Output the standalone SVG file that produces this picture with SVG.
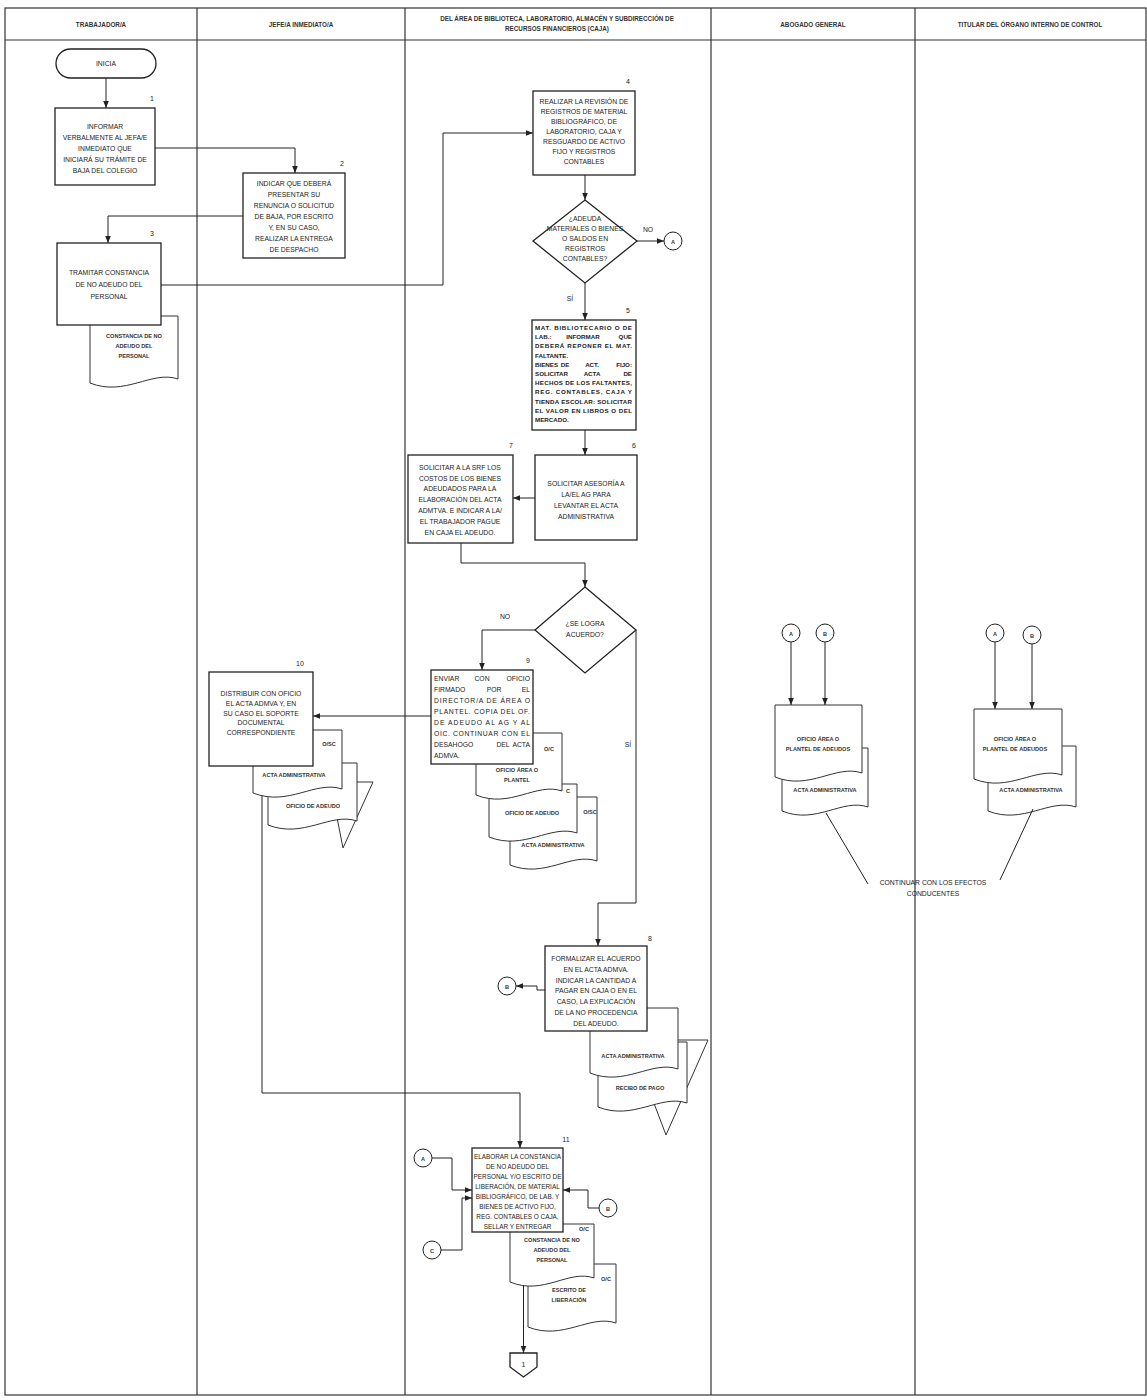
<svg xmlns="http://www.w3.org/2000/svg" width="1147" height="1400" viewBox="0 0 1147 1400">
<defs>
<marker id="ah" viewBox="0 0 10 10" refX="10" refY="5" markerWidth="7" markerHeight="7" markerUnits="userSpaceOnUse" orient="auto"><path d="M0,1 L10,5 L0,9 Z" fill="#222"/></marker>
<style>
.lane{fill:none;stroke:#333;stroke-width:1.2}
.box{fill:#fff;stroke:#222;stroke-width:1.3}
.doc{fill:#fff;stroke:#333;stroke-width:1}
.ln{fill:none;stroke:#222;stroke-width:1}
.t{font-family:"Liberation Sans",Arial,sans-serif;font-size:6.8px;fill:#222;text-anchor:middle}
.h{font-family:"Liberation Sans",Arial,sans-serif;font-size:6.3px;font-weight:bold;fill:#333;text-anchor:middle}
.d{font-family:"Liberation Sans",Arial,sans-serif;font-size:5.6px;font-weight:bold;fill:#333;text-anchor:middle}
.j{font-family:"Liberation Sans",Arial,sans-serif;font-size:6.8px;fill:#222;text-anchor:start}
.jb{font-family:"Liberation Sans",Arial,sans-serif;font-size:6.2px;font-weight:bold;fill:#222;text-anchor:start}
.m{text-anchor:middle}
.e{text-anchor:end}
.n{font-family:"Liberation Sans",Arial,sans-serif;font-size:7px;fill:#222;text-anchor:middle}
.c{fill:#fff;stroke:#222;stroke-width:1}
</style>
</defs>
<rect width="1147" height="1400" fill="#fff"/>

<g id="lanes">
<rect class="lane" x="5" y="8" width="1141" height="1387"/>
<line class="lane" x1="5" y1="40" x2="1146" y2="40"/>
<line class="lane" x1="197" y1="8" x2="197" y2="1395"/>
<line class="lane" x1="405" y1="8" x2="405" y2="1395"/>
<line class="lane" x1="711" y1="8" x2="711" y2="1395"/>
<line class="lane" x1="915" y1="8" x2="915" y2="1395"/>
<text class="h" x="101" y="27">TRABAJADOR/A</text>
<text class="h" x="301" y="27">JEFE/A INMEDIATO/A</text>
<text class="h" x="557" y="21">DEL ÁREA DE BIBLIOTECA, LABORATORIO, ALMACÉN Y SUBDIRECCIÓN DE</text>
<text class="h" x="557" y="31">RECURSOS FINANCIEROS (CAJA)</text>
<text class="h" x="813" y="27">ABOGADO GENERAL</text>
<text class="h" x="1030" y="27">TITULAR DEL ÓRGANO INTERNO DE CONTROL</text>
</g>

<g id="inicia">
<rect class="box" x="56" y="49" width="100" height="29" rx="14.5"/>
<text class="t" x="106" y="66">INICIA</text>
</g>

<g id="n1">
<rect class="box" x="55" y="108" width="100" height="77"/>
<text class="n" x="152" y="101">1</text>
<text class="t"><tspan x="105" y="129">INFORMAR</tspan><tspan x="105" y="140">VERBALMENTE AL JEFA/E</tspan><tspan x="105" y="151">INMEDIATO QUE</tspan><tspan x="105" y="162">INICIARÁ SU TRÁMITE DE</tspan><tspan x="105" y="173">BAJA DEL COLEGIO</tspan></text>
</g>

<g id="n2">
<rect class="box" x="243" y="173" width="102" height="85"/>
<text class="n" x="342" y="166">2</text>
<text class="t"><tspan x="294" y="186">INDICAR QUE DEBERÁ</tspan><tspan x="294" y="197">PRESENTAR SU</tspan><tspan x="294" y="208">RENUNCIA O SOLICITUD</tspan><tspan x="294" y="219">DE BAJA, POR ESCRITO</tspan><tspan x="294" y="230">Y,  EN SU CASO,</tspan><tspan x="294" y="241">REALIZAR LA ENTREGA</tspan><tspan x="294" y="252">DE DESPACHO</tspan></text>
</g>

<g id="n3">
<path class="doc" d="M90,316 H178 V379 C151.6,370 125.2,397 90,383 Z"/>
<text class="d"><tspan x="134" y="338">CONSTANCIA DE NO</tspan><tspan x="134" y="348">ADEUDO DEL</tspan><tspan x="134" y="358">PERSONAL</tspan></text>
<rect class="box" x="57" y="243" width="104" height="82"/>
<text class="n" x="152" y="236">3</text>
<text class="t"><tspan x="109" y="275">TRAMITAR CONSTANCIA</tspan><tspan x="109" y="287">DE NO ADEUDO DEL</tspan><tspan x="109" y="299">PERSONAL</tspan></text>
</g>

<g id="n4">
<rect class="box" x="533" y="91" width="102" height="84"/>
<text class="n" x="628" y="84">4</text>
<text class="t"><tspan x="584" y="104">REALIZAR LA REVISIÓN DE</tspan><tspan x="584" y="114">REGISTROS DE MATERIAL</tspan><tspan x="584" y="124">BIBLIOGRÁFICO, DE</tspan><tspan x="584" y="134">LABORATORIO, CAJA Y</tspan><tspan x="584" y="144">RESGUARDO DE ACTIVO</tspan><tspan x="584" y="154">FIJO Y REGISTROS</tspan><tspan x="584" y="164">CONTABLES</tspan></text>
</g>

<g id="d1">
<polygon class="box" points="585,200 637,241 585,283 533,241"/>
<text class="t"><tspan x="585" y="221">¿ADEUDA</tspan><tspan x="585" y="231">MATERIALES O BIENES</tspan><tspan x="585" y="241">O SALDOS EN</tspan><tspan x="585" y="251">REGISTROS</tspan><tspan x="585" y="261">CONTABLES?</tspan></text>
</g>

<g id="cA1">
<circle class="c" cx="673" cy="241" r="9"/>
<text class="d" x="673" y="243.5">A</text>
</g>

<g id="n5">
<rect class="box" x="532" y="320" width="104" height="110"/>
<text class="n" x="628" y="313">5</text>
<g class="jb">
<text x="535" y="330" textLength="97" lengthAdjust="spacing">MAT. BIBLIOTECARIO O DE</text>
<text x="535" y="339.2">LAB.:</text><text class="m" x="583" y="339.2">INFORMAR</text><text class="e" x="632" y="339.2">QUE</text>
<text x="535" y="348.4" textLength="97" lengthAdjust="spacing">DEBERÁ REPONER EL MAT.</text>
<text x="535" y="357.6">FALTANTE.</text>
<text x="535" y="366.8">BIENES</text><text class="m" x="565" y="366.8">DE</text><text class="m" x="592" y="366.8">ACT.</text><text class="e" x="632" y="366.8">FIJO:</text>
<text x="535" y="376">SOLICITAR</text><text class="m" x="592" y="376">ACTA</text><text class="e" x="632" y="376">DE</text>
<text x="535" y="385.2" textLength="97" lengthAdjust="spacing">HECHOS DE LOS FALTANTES,</text>
<text x="535" y="394.4" textLength="97" lengthAdjust="spacing">REG. CONTABLES, CAJA Y</text>
<text x="535" y="403.6" textLength="97" lengthAdjust="spacing">TIENDA ESCOLAR: SOLICITAR</text>
<text x="535" y="412.8" textLength="97" lengthAdjust="spacing">EL VALOR EN LIBROS O DEL</text>
<text x="535" y="422">MERCADO.</text>
</g>
</g>

<g id="n6">
<rect class="box" x="535" y="455" width="102" height="85"/>
<text class="n" x="634" y="448">6</text>
<text class="t"><tspan x="586" y="486">SOLICITAR ASESORÍA A</tspan><tspan x="586" y="497">LA/EL AG PARA</tspan><tspan x="586" y="508">LEVANTAR EL ACTA</tspan><tspan x="586" y="519">ADMINISTRATIVA</tspan></text>
</g>

<g id="n7">
<rect class="box" x="408" y="455" width="105" height="88"/>
<text class="n" x="511" y="448">7</text>
<text class="t"><tspan x="460" y="470">SOLICITAR A LA SRF LOS</tspan><tspan x="460" y="481">COSTOS DE LOS BIENES</tspan><tspan x="460" y="491">ADEUDADOS PARA LA</tspan><tspan x="460" y="502">ELABORACIÓN DEL ACTA</tspan><tspan x="460" y="513">ADMTVA. E INDICAR A LA/</tspan><tspan x="460" y="524">EL TRABAJADOR PAGUE</tspan><tspan x="460" y="535">EN CAJA EL ADEUDO.</tspan></text>
</g>

<g id="d2">
<polygon class="box" points="585,587 636,630 585,673 535,630"/>
<text class="t"><tspan x="585" y="626">¿SE LOGRA</tspan><tspan x="585" y="637">ACUERDO?</tspan></text>
</g>

<g id="n9">
<path class="doc" d="M510,797 H597 V861 C570.9,852 544.8,879 510,865 Z"/>
<text class="d" x="590" y="814">O/SC</text>
<text class="d" x="553" y="847">ACTA ADMINISTRATIVA</text>
<path class="doc" d="M489,784 H577 V833 C550.6,824 524.2,851 489,837 Z"/>
<text class="d" x="568" y="793">C</text>
<text class="d" x="532" y="815">OFICIO DE ADEUDO</text>
<path class="doc" d="M476,733 H562 V791 C536.2,782 510.4,809 476,795 Z"/>
<text class="d" x="549" y="751">O/C</text>
<text class="d"><tspan x="517" y="772">OFICIO ÁREA O</tspan><tspan x="517" y="782">PLANTEL</tspan></text>
<rect class="box" x="431" y="670" width="102" height="94"/>
<text class="n" x="528" y="663">9</text>
<g class="j">
<text x="434" y="681">ENVIAR</text><text class="m" x="482" y="681">CON</text><text class="e" x="530" y="681">OFICIO</text>
<text x="434" y="692">FIRMADO</text><text class="m" x="494" y="692">POR</text><text class="e" x="530" y="692">EL</text>
<text x="434" y="703" textLength="96" lengthAdjust="spacing">DIRECTOR/A DE ÁREA O</text>
<text x="434" y="714" textLength="96" lengthAdjust="spacing">PLANTEL. COPIA DEL OF.</text>
<text x="434" y="725" textLength="96" lengthAdjust="spacing">DE ADEUDO AL AG Y AL</text>
<text x="434" y="736" textLength="96" lengthAdjust="spacing">OIC. CONTINUAR CON EL</text>
<text x="434" y="747">DESAHOGO</text><text class="m" x="503" y="747">DEL</text><text class="e" x="530" y="747">ACTA</text>
<text x="434" y="758">ADMVA.</text>
</g>
</g>

<g id="n10">
<polygon class="doc" points="330,782 373,782 343,848"/>
<path class="doc" d="M268,763 H357 V821 C330.3,812 303.6,839 268,825 Z"/>
<text class="d" x="313" y="808">OFICIO DE ADEUDO</text>
<path class="doc" d="M253,730 H342 V789 C315.3,780 288.6,807 253,793 Z"/>
<text class="d" x="329" y="746">O/SC</text>
<text class="d" x="294" y="777">ACTA ADMINISTRATIVA</text>
<rect class="box" x="209" y="672" width="104" height="94"/>
<text class="n" x="300" y="666">10</text>
<text class="t"><tspan x="261" y="696">DISTRIBUIR CON OFICIO</tspan><tspan x="261" y="706">EL ACTA ADMVA Y, EN</tspan><tspan x="261" y="716">SU CASO EL SOPORTE</tspan><tspan x="261" y="725">DOCUMENTAL</tspan><tspan x="261" y="735">CORRESPONDIENTE</tspan></text>
</g>

<g id="n8">
<polygon class="doc" points="630,1040 708,1040 666,1135"/>
<path class="doc" d="M598,1042 H687 V1103 C660.3,1094 633.6,1121 598,1107 Z"/>
<text class="d" x="640" y="1090">RECIBO DE PAGO</text>
<path class="doc" d="M590,1008 H678 V1069 C651.6,1060 625.2,1087 590,1073 Z"/>
<text class="d" x="633" y="1058">ACTA ADMINISTRATIVA</text>
<rect class="box" x="545" y="946" width="102" height="85"/>
<text class="n" x="650" y="941">8</text>
<text class="t"><tspan x="596" y="961">FORMALIZAR EL ACUERDO</tspan><tspan x="596" y="972">EN EL ACTA ADMVA.</tspan><tspan x="596" y="983">INDICAR LA CANTIDAD A</tspan><tspan x="596" y="993">PAGAR EN CAJA O EN EL</tspan><tspan x="596" y="1004">CASO, LA EXPLICACIÓN</tspan><tspan x="596" y="1015">DE LA NO PROCEDENCIA</tspan><tspan x="596" y="1026">DEL ADEUDO.</tspan></text>
</g>

<g id="cB1">
<circle class="c" cx="507" cy="986" r="9"/>
<text class="d" x="507" y="988.5">B</text>
</g>

<g id="n11">
<path class="doc" d="M528,1264 H616 V1323 C589.6,1314 563.2,1341 528,1327 Z"/>
<text class="d" x="606" y="1281">O/C</text>
<text class="d"><tspan x="569" y="1292">ESCRITO DE</tspan><tspan x="569" y="1302">LIBERACIÓN</tspan></text>
<path class="doc" d="M510,1224 H594 V1278 C568.8,1269 543.6,1296 510,1282 Z"/>
<text class="d" x="584" y="1231">O/C</text>
<text class="d"><tspan x="552" y="1242">CONSTANCIA DE NO</tspan><tspan x="552" y="1252">ADEUDO DEL</tspan><tspan x="552" y="1262">PERSONAL</tspan></text>
<rect class="box" x="472" y="1148" width="91" height="84"/>
<text class="n" x="566" y="1142">11</text>
<text class="t" style="font-size:6.4px"><tspan x="517.5" y="1159">ELABORAR LA CONSTANCIA</tspan><tspan x="517.5" y="1169">DE NO ADEUDO DEL</tspan><tspan x="517.5" y="1179">PERSONAL Y/O ESCRITO DE</tspan><tspan x="517.5" y="1189">LIBERACIÓN, DE MATERIAL</tspan><tspan x="517.5" y="1199">BIBLIOGRÁFICO, DE LAB. Y</tspan><tspan x="517.5" y="1209">BIENES DE ACTIVO FIJO,</tspan><tspan x="517.5" y="1219">REG. CONTABLES O CAJA,</tspan><tspan x="517.5" y="1229">SELLAR Y ENTREGAR</tspan></text>
</g>

<g id="cA2">
<circle class="c" cx="423" cy="1158" r="9"/>
<text class="d" x="423" y="1160.5">A</text>
</g>
<g id="cC2">
<circle class="c" cx="432" cy="1250" r="9"/>
<text class="d" x="432" y="1252.5">C</text>
</g>
<g id="cB2">
<circle class="c" cx="608" cy="1208" r="9"/>
<text class="d" x="608" y="1210.5">B</text>
</g>

<g id="off1">
<polygon class="box" points="510,1353 537,1353 537,1367 523.5,1377 510,1367"/>
<text class="n" x="523.5" y="1367">1</text>
</g>

<g id="ag">
<circle class="c" cx="791" cy="633" r="9"/>
<text class="d" x="791" y="635.5">A</text>
<circle class="c" cx="825" cy="633" r="9"/>
<text class="d" x="825" y="635.5">B</text>
<path class="doc" d="M782,748 H868 V807 C842.2,798 816.4,825 782,811 Z"/>
<text class="d" x="825" y="792">ACTA ADMINISTRATIVA</text>
<path class="doc" d="M775,705 H862 V773 C835.9,764 809.8,791 775,777 Z"/>
<text class="d"><tspan x="818" y="741">OFICIO ÁREA O</tspan><tspan x="818" y="751">PLANTEL DE ADEUDOS</tspan></text>
</g>

<g id="oic">
<circle class="c" cx="995" cy="633" r="9"/>
<text class="d" x="995" y="635.5">A</text>
<circle class="c" cx="1032" cy="635" r="9"/>
<text class="d" x="1032" y="637.5">B</text>
<path class="doc" d="M988,746 H1076 V807 C1049.6,798 1023.2,825 988,811 Z"/>
<text class="d" x="1031" y="792">ACTA ADMINISTRATIVA</text>
<path class="doc" d="M974,709 H1062 V775 C1035.6,766 1009.2,793 974,779 Z"/>
<text class="d"><tspan x="1015" y="741">OFICIO ÁREA O</tspan><tspan x="1015" y="751">PLANTEL DE ADEUDOS</tspan></text>
</g>

<g id="nota">
<text class="t"><tspan x="933" y="885">CONTINUAR CON LOS EFECTOS</tspan><tspan x="933" y="896">CONDUCENTES</tspan></text>
</g>

<g id="connectors">
<path class="ln" d="M106,78 V108" marker-end="url(#ah)"/>
<path class="ln" d="M155,148 H295 V173" marker-end="url(#ah)"/>
<path class="ln" d="M243,216 H108 V243" marker-end="url(#ah)"/>
<path class="ln" d="M161,285 H443 V133 H533" marker-end="url(#ah)"/>
<path class="ln" d="M585,175 V200" marker-end="url(#ah)"/>
<path class="ln" d="M637,241 H664" marker-end="url(#ah)"/>
<path class="ln" d="M585,283 V320" marker-end="url(#ah)"/>
<path class="ln" d="M585,430 V455" marker-end="url(#ah)"/>
<path class="ln" d="M535,498 H513" marker-end="url(#ah)"/>
<path class="ln" d="M461,543 V563 H585 V587" marker-end="url(#ah)"/>
<path class="ln" d="M535,630 H482 V670" marker-end="url(#ah)"/>
<path class="ln" d="M636,630 V903 H598 V946" marker-end="url(#ah)"/>
<path class="ln" d="M431,716 H313" marker-end="url(#ah)"/>
<path class="ln" d="M262,796 V1093 H520 V1148" marker-end="url(#ah)"/>
<path class="ln" d="M545,990 H537 V986 H516" marker-end="url(#ah)"/>
<path class="ln" d="M432,1158 H452 V1190 H472" marker-end="url(#ah)"/>
<path class="ln" d="M441,1250 H462 V1198 H472" marker-end="url(#ah)"/>
<path class="ln" d="M599,1208 H588 V1190 H563" marker-end="url(#ah)"/>
<path class="ln" d="M523.5,1285 V1353" marker-end="url(#ah)"/>
<path class="ln" d="M791,642 V705" marker-end="url(#ah)"/>
<path class="ln" d="M825,642 V705" marker-end="url(#ah)"/>
<path class="ln" d="M995,642 V709" marker-end="url(#ah)"/>
<path class="ln" d="M1032,644 V709" marker-end="url(#ah)"/>
<path class="ln" d="M826,813 L868,884"/>
<path class="ln" d="M1033,809 L1000,880"/>
<text class="t" x="648" y="232">NO</text>
<text class="t" x="570" y="301">SÍ</text>
<text class="t" x="505" y="619">NO</text>
<text class="t" x="628" y="747">SÍ</text>
</g>
</svg>
